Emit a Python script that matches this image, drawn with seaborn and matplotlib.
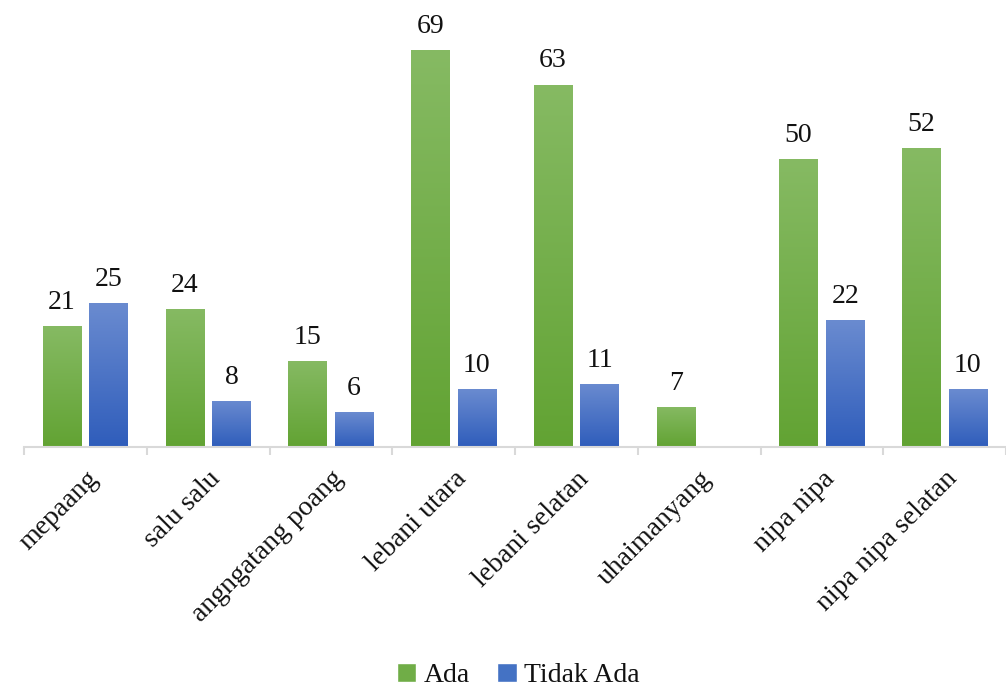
import numpy as np
import pandas as pd
import matplotlib
matplotlib.use("Agg")
import matplotlib.pyplot as plt
import matplotlib.colors as mcolors
from matplotlib.patches import Patch
import seaborn as sns

# Data
categories = ["mepaang", "salu salu", "angngatang poang", "lebani utara",
              "lebani selatan", "uhaimanyang", "nipa nipa", "nipa nipa selatan"]
ada = [21, 24, 15, 69, 63, 7, 50, 52]
tidak_ada = [25, 8, 6, 10, 11, 0, 22, 10]
series_names = ["Ada", "Tidak Ada"]

df = pd.DataFrame({
    "desa": categories * 2,
    "jumlah": ada + tidak_ada,
    "status": [series_names[0]] * len(categories) + [series_names[1]] * len(categories),
})

# Gradient end colours (top, bottom) for each series
grad = {
    "Ada": ("#86BA63", "#62A333"),
    "Tidak Ada": ("#6A8BD0", "#2F5DBB"),
}
solid = {"Ada": "#70AD47", "Tidak Ada": "#4472C4"}

sns.set_theme(style="white")
plt.rcParams["font.family"] = ["Liberation Serif", "DejaVu Serif"]
FS = 20

W, H, DPI = 1006, 689, 100
fig = plt.figure(figsize=(W / DPI, H / DPI), dpi=DPI)
ax_left, ax_right, ax_top, ax_bottom = 24, 1006, 0, 447
ax = fig.add_axes([ax_left / W, 1 - ax_bottom / H, (ax_right - ax_left) / W, (ax_bottom - ax_top) / H])

sns.barplot(data=df, x="desa", y="jumlah", hue="status", order=categories,
            hue_order=series_names, palette=solid, width=0.758, gap=0.17,
            legend=False, ax=ax)

px_per_unit = (447 - 50) / 69.0
ylim = (0, (ax_bottom - ax_top) / px_per_unit)
n = len(categories)

# Replace the flat fills with vertical gradients and add value labels
for i, patch in enumerate(ax.patches[:2 * n]):
    name = series_names[i // n]
    h = patch.get_height()
    if not np.isfinite(h) or h <= 0:
        patch.set_visible(False)
        continue
    x0 = patch.get_x()
    w = patch.get_width()
    top, bot = grad[name]
    cmap = mcolors.LinearSegmentedColormap.from_list(name, [bot, top])
    g = np.linspace(0, 1, 256).reshape(-1, 1)
    im = ax.imshow(g, cmap=cmap, aspect="auto", origin="lower",
                   extent=(x0, x0 + w, 0, h), zorder=2, interpolation="bicubic")
    im.set_clip_path(patch)
    patch.set_facecolor("none")
    patch.set_edgecolor("none")
    ax.annotate(f"{int(h)}", (x0 + w / 2, h), xytext=(0, 8), textcoords="offset points",
                ha="center", va="bottom", fontsize=FS, color="#111111")

ax.set_xlim(-0.5, n - 0.5)
ax.set_ylim(*ylim)

# Axes styling
for s in ["top", "right", "left"]:
    ax.spines[s].set_visible(False)
ax.spines["bottom"].set_color("#D9D9D9")
ax.spines["bottom"].set_linewidth(1.5)
ax.set_yticks([])
ax.set_xlabel("")
ax.set_ylabel("")
ax.set_xticks(np.arange(n))
ax.set_xticks(np.arange(-0.5, n), minor=True)
ax.tick_params(axis="x", which="both", bottom=True)
ax.tick_params(axis="x", which="major", length=0, pad=14)
ax.tick_params(axis="x", which="minor", length=6, width=1.5, color="#D9D9D9", direction="out")
ax.set_xticklabels(categories, rotation=45, ha="right", rotation_mode="anchor",
                   fontsize=FS, color="#111111")

handles = [Patch(facecolor=solid[s], label=s) for s in series_names]
fig.legend(handles=handles, loc="lower center", bbox_to_anchor=(0.515, -0.035), ncol=2,
           frameon=False, fontsize=FS, handlelength=0.7, handleheight=0.7,
           handletextpad=0.25, columnspacing=1.0, labelcolor="#111111")

fig.savefig("out.png", dpi=DPI)
